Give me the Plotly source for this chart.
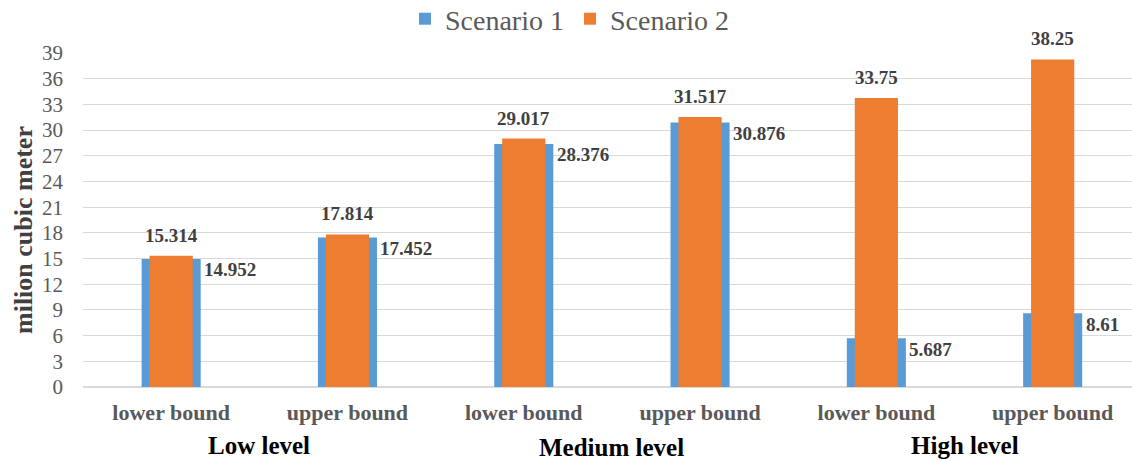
import plotly.graph_objects as go

categories = ["lower bound", "upper bound", "lower bound", "upper bound", "lower bound", "upper bound"]
groups = ["Low level", "Medium level", "High level"]
scenario1 = [14.952, 17.452, 28.376, 30.876, 5.687, 8.61]
scenario2 = [15.314, 17.814, 29.017, 31.517, 33.75, 38.25]
y_ticks = list(range(0, 40, 3))

BLUE = "#5B9BD5"
ORANGE = "#ED7D31"
SERIF = "Liberation Serif"
x = list(range(len(categories)))

fig = go.Figure()
fig.add_trace(go.Bar(x=x, y=scenario1, name="Scenario 1", marker_color=BLUE,
                     width=0.335, marker_line_width=0))
fig.add_trace(go.Bar(x=x, y=scenario2, name="Scenario 2", marker_color=ORANGE,
                     width=0.245, marker_line_width=0))

ann = []
for i, v in enumerate(scenario1):
    ann.append(dict(x=i, y=v, xref="x", yref="y", text=f"<b>{v:g}</b>", showarrow=False,
                    xanchor="left", yanchor="middle", xshift=31, yshift=-11,
                    font=dict(family=SERIF, size=19, color="#404040")))
for i, v in enumerate(scenario2):
    ann.append(dict(x=i, y=v, xref="x", yref="y", text=f"<b>{v:g}</b>", showarrow=False,
                    xanchor="center", yanchor="bottom", yshift=8,
                    font=dict(family=SERIF, size=19, color="#404040")))
for g, name in enumerate(groups):
    ann.append(dict(x=2 * g + 0.5, y=0, xref="x", yref="paper", text=f"<b>{name}</b>",
                    showarrow=False, xanchor="center", yanchor="middle",
                    yshift=-58 if g != 1 else -60,
                    font=dict(family=SERIF, size=25, color="#000000")))
ann.append(dict(x=0, y=0.5, xref="paper", yref="paper", text="<b>milion cubic meter</b>",
                showarrow=False, textangle=-90, xanchor="center", yanchor="middle",
                xshift=-60, yshift=-10,
                font=dict(family=SERIF, size=26, color="#404040")))

plot_h = 461 - 53 - 74
fig.update_layout(
    width=1132, height=461,
    margin=dict(l=83, r=0, t=53, b=74, autoexpand=False),
    barmode="overlay",
    plot_bgcolor="white", paper_bgcolor="white",
    showlegend=True,
    legend=dict(orientation="h", x=(419 - 14 - 83) / 1049, xanchor="left",
                y=1 + (53 - 19) / plot_h, yanchor="middle",
                font=dict(family=SERIF, size=28, color="#595959"),
                itemwidth=30, tracegroupgap=0,
                entrywidth=120, entrywidthmode="pixels"),
    annotations=ann,
)
fig.update_xaxes(range=[-0.5, 5.45], tickvals=x, ticktext=[f"<b>{c}</b>" for c in categories],
                 showgrid=False, zeroline=False, showline=False, ticks="",
                 tickfont=dict(family=SERIF, size=22, color="#595959"),
                 ticklabelstandoff=10)
fig.update_yaxes(range=[0, 39], tickvals=y_ticks, showgrid=True, gridcolor="#D9D9D9",
                 gridwidth=1.3, zeroline=True, zerolinecolor="#D9D9D9", zerolinewidth=1.5,
                 showline=False, ticks="",
                 tickfont=dict(family=SERIF, size=21, color="#595959"),
                 ticklabelstandoff=19)

fig.write_html("out.html")
